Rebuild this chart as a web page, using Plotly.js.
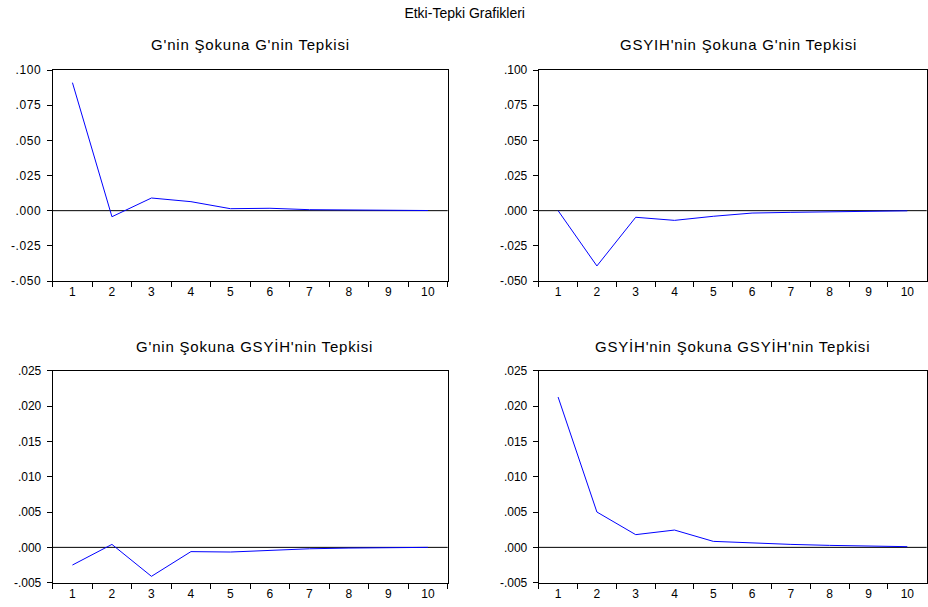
<!DOCTYPE html>
<html>
<head>
<meta charset="utf-8">
<script src="https://cdn.plot.ly/plotly-3.0.1.min.js"></script>
<style>
html,body{margin:0;padding:0;background:#fff;}
.annotation-text{letter-spacing:0.8px;}
.annotation[data-index="0"] .annotation-text{letter-spacing:0px;}
.ytick text{letter-spacing:0.6px;}
.xtick text{letter-spacing:0.3px;}
</style>
</head>
<body>
<div id="chart" style="width:928px;height:607px;"></div>
<script>
// Periods
const periods = ["1","2","3","4","5","6","7","8","9","10"];

// Series
const gToG = [0.0910, -0.0043, 0.0090, 0.0064, 0.0014, 0.0017, 0.0007, 0.0005, 0.0002, 0.0001];
const gdpToG = [0.0000, -0.0393, -0.0047, -0.0069, -0.0040, -0.0017, -0.0012, -0.0007, -0.0003, -0.0001];
const gToGdp = [-0.0025, 0.00042, -0.0041, -0.0006, -0.00066, -0.00042, -0.0002, -0.0001, -0.00005, 0.0000];
const gdpToGdp = [0.02127, 0.0050, 0.0018, 0.00245, 0.00085, 0.0006, 0.00042, 0.00028, 0.00014, 0.0001];

// Titles
const mainTitle = "Etki-Tepki Grafikleri";
const panelTitles = [
  "G'nin Şokuna G'nin Tepkisi",
  "GSYIH'nin Şokuna G'nin Tepkisi",
  "G'nin Şokuna GSYİH'nin Tepkisi",
  "GSYİH'nin Şokuna GSYİH'nin Tepkisi"
];

// Tick labels
const topTickVals = [-0.05, -0.025, 0, 0.025, 0.05, 0.075, 0.1];
const topTickText = ["-.050", "-.025", ".000", ".025", ".050", ".075", ".100"];
const botTickVals = [-0.005, 0, 0.005, 0.01, 0.015, 0.02, 0.025];
const botTickText = ["-.005", ".000", ".005", ".010", ".015", ".020", ".025"];

const series = [gToG, gdpToG, gToGdp, gdpToGdp];
const FONT = "Liberation Sans, Arial, sans-serif";

const W = 928, H = 607;
const xDomL = [52.7 / W, 447.7 / W];
const xDomR = [538.7 / W, 926.7 / W];
const yDomT = [1 - 281 / H, 1 - 70 / H];
const yDomB = [1 - 582.7 / H, 1 - 370.7 / H];

const traces = series.map((s, i) => ({
  type: "scatter",
  mode: "lines",
  x: periods,
  y: s,
  xaxis: "x" + (i === 0 ? "" : i + 1),
  yaxis: "y" + (i === 0 ? "" : i + 1),
  line: { color: "#0000ff", width: 1 },
  hoverinfo: "x+y",
  showlegend: false
}));

function xAxis(domain, anchor) {
  return {
    domain: domain, anchor: anchor,
    type: "category",
    categoryorder: "array", categoryarray: periods,
    range: [-0.5, 9.5],
    tickson: "boundaries",
    ticks: "outside", ticklen: 5, tickwidth: 1, tickcolor: "#000",
    showline: true, mirror: true, linecolor: "#000", linewidth: 1,
    showgrid: false, zeroline: false,
    tickfont: { family: FONT, size: 12, color: "#000" },
    fixedrange: true
  };
}
function yAxis(domain, anchor, vals, text) {
  return {
    domain: domain, anchor: anchor,
    range: [vals[0], vals[vals.length - 1]],
    tickmode: "array", tickvals: vals, ticktext: text,
    ticks: "outside", ticklen: 5, tickwidth: 1, tickcolor: "#000",
    ticklabelstandoff: 3,
    showline: true, mirror: true, linecolor: "#000", linewidth: 1,
    showgrid: false, zeroline: false,
    tickfont: { family: FONT, size: 12, color: "#000" },
    fixedrange: true
  };
}

const titleCenters = [
  [(xDomL[0] + xDomL[1]) / 2, 1 - 45 / H],
  [(xDomR[0] + xDomR[1]) / 2 + 6 / W, 1 - 45 / H],
  [(xDomL[0] + xDomL[1]) / 2 + 4 / W, 1 - 346 / H],
  [(xDomR[0] + xDomR[1]) / 2, 1 - 346 / H]
];

const annotations = [{
  text: mainTitle, xref: "paper", yref: "paper", x: 464 / W, y: 1 - 13 / H,
  xanchor: "center", yanchor: "middle", showarrow: false,
  font: { family: FONT, size: 14, color: "#000" }
}].concat(panelTitles.map((t, i) => ({
  text: t, xref: "paper", yref: "paper", x: titleCenters[i][0], y: titleCenters[i][1],
  xanchor: "center", yanchor: "middle", showarrow: false,
  font: { family: FONT, size: 15, color: "#000" }
})));

const shapes = [1, 2, 3, 4].map(i => {
  const sfx = i === 1 ? "" : String(i);
  return {
    type: "line", xref: "x" + sfx + " domain", yref: "y" + sfx,
    x0: 0, x1: 1, y0: 0, y1: 0,
    line: { color: "#000", width: 1 }, layer: "below"
  };
});

const layout = {
  width: W, height: H,
  margin: { l: 0, r: 0, t: 0, b: 0 },
  paper_bgcolor: "#fff", plot_bgcolor: "#fff",
  showlegend: false,
  xaxis: xAxis(xDomL, "y"),
  yaxis: yAxis(yDomT, "x", topTickVals, topTickText),
  xaxis2: xAxis(xDomR, "y2"),
  yaxis2: yAxis(yDomT, "x2", topTickVals, topTickText),
  xaxis3: xAxis(xDomL, "y3"),
  yaxis3: yAxis(yDomB, "x3", botTickVals, botTickText),
  xaxis4: xAxis(xDomR, "y4"),
  yaxis4: yAxis(yDomB, "x4", botTickVals, botTickText),
  annotations: annotations,
  shapes: shapes
};

Plotly.newPlot("chart", traces, layout, { displayModeBar: false, staticPlot: true });
</script>
</body>
</html>
